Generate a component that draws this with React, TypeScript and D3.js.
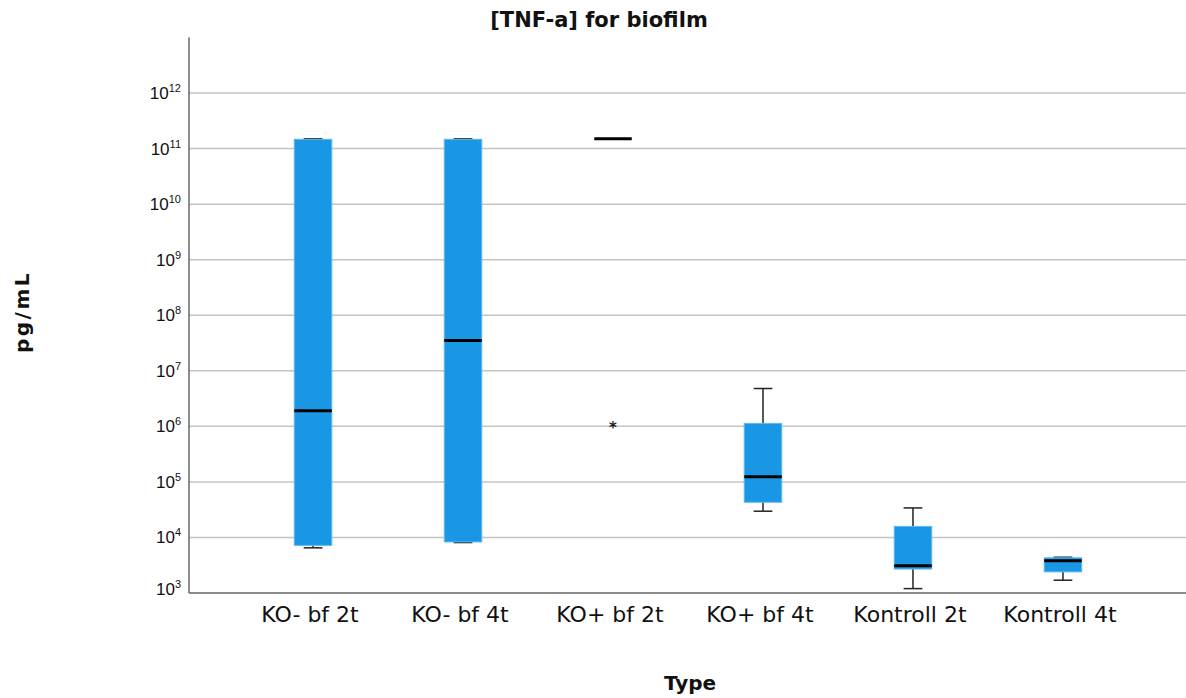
import React, { useEffect, useRef } from 'react';
import * as d3 from 'd3';

const categories = ['KO- bf 2t', 'KO- bf 4t', 'KO+ bf 2t', 'KO+ bf 4t', 'Kontroll 2t', 'Kontroll 4t'];
const whiskerLow = [6.5e3, 8.1e3, 1.5e11, 2.97e4, 1.2e3, 1.7e3];
const q1 = [7.2e3, 8.3e3, 1.5e11, 4.3e4, 2.7e3, 2.4e3];
const medians = [1.9e6, 3.5e7, 1.5e11, 1.24e5, 3.1e3, 3.8e3];
const q3 = [1.47e11, 1.47e11, 1.5e11, 1.13e6, 1.58e4, 4.3e3];
const whiskerHigh = [1.5e11, 1.5e11, 1.5e11, 4.8e6, 3.4e4, 4.4e3];
const outliers = [{ category: 'KO+ bf 2t', value: 1e6 }];
const tickExponents = [3, 4, 5, 6, 7, 8, 9, 10, 11, 12];

const width = 1186;
const height = 698;

const App = () => {
    const svgRef = useRef(null);

    useEffect(() => {
        const svg = d3.select(svgRef.current);
        svg.selectAll('*').remove();

        const left = 189, right = 1187, top = 37.5, bottom = 593;

        const x = d3.scalePoint()
            .domain(categories)
            .range([left, right])
            .padding(0.827);

        const y = d3.scaleLog()
            .domain([1e3, 1e13])
            .range([bottom, top]);

        const boxW = x.step() * 0.25;
        const capW = boxW / 2;
        const font = '"DejaVu Sans", sans-serif';

        // gridlines
        svg.append('g')
            .selectAll('line')
            .data(tickExponents.filter(e => e > 3))
            .enter()
            .append('line')
            .attr('x1', left)
            .attr('x2', width)
            .attr('y1', e => y(Math.pow(10, e)))
            .attr('y2', e => y(Math.pow(10, e)))
            .attr('stroke', '#c4c4c4')
            .attr('stroke-width', 1.5);

        // axes lines
        svg.append('line')
            .attr('x1', left).attr('x2', left)
            .attr('y1', top).attr('y2', bottom)
            .attr('stroke', '#666').attr('stroke-width', 1.5);
        svg.append('line')
            .attr('x1', left).attr('x2', width)
            .attr('y1', bottom).attr('y2', bottom)
            .attr('stroke', '#666').attr('stroke-width', 1.5);

        // y tick labels (10^n)
        const tickG = svg.append('g')
            .attr('font-family', '"Liberation Sans", Arial, sans-serif')
            .attr('fill', '#111');
        tickExponents.forEach(e => {
            let ty = y(Math.pow(10, e)) + 6;
            if (e === 3) ty -= 4;
            const t = tickG.append('text')
                .attr('x', 181)
                .attr('y', ty)
                .attr('text-anchor', 'end')
                .attr('font-size', 17);
            t.append('tspan').text('10');
            t.append('tspan')
                .attr('font-size', 11)
                .attr('dy', -7)
                .text(String(e));
        });

        // boxes
        const boxG = svg.append('g');
        categories.forEach((c, i) => {
            const cx = x(c);

            // whiskers
            const wg = boxG.append('g').attr('stroke', '#222').attr('stroke-width', 1.5);
            wg.append('line')
                .attr('x1', cx).attr('x2', cx)
                .attr('y1', y(whiskerHigh[i])).attr('y2', y(q3[i]));
            wg.append('line')
                .attr('x1', cx).attr('x2', cx)
                .attr('y1', y(q1[i])).attr('y2', y(whiskerLow[i]));
            [whiskerHigh[i], whiskerLow[i]].forEach(v => {
                wg.append('line')
                    .attr('x1', cx - capW / 2).attr('x2', cx + capW / 2)
                    .attr('y1', y(v)).attr('y2', y(v));
            });

            const h = y(q1[i]) - y(q3[i]);
            if (h > 0.5) {
                boxG.append('rect')
                    .attr('x', cx - boxW / 2)
                    .attr('y', y(q3[i]))
                    .attr('width', boxW)
                    .attr('height', h)
                    .attr('fill', '#1a97e4')
                    .attr('stroke', '#5cb8f0')
                    .attr('stroke-width', 1);
            }

            boxG.append('line')
                .attr('x1', cx - boxW / 2).attr('x2', cx + boxW / 2)
                .attr('y1', y(medians[i])).attr('y2', y(medians[i]))
                .attr('stroke', '#000')
                .attr('stroke-width', 3);
        });

        // outliers (extreme values, drawn as small asterisks)
        svg.append('g')
            .selectAll('text')
            .data(outliers)
            .enter()
            .append('text')
            .attr('x', d => x(d.category))
            .attr('y', d => y(d.value) + 7)
            .attr('text-anchor', 'middle')
            .attr('font-family', font)
            .attr('font-weight', 'bold')
            .attr('font-size', 15)
            .attr('fill', '#222')
            .text('*');

        // x labels
        svg.append('g')
            .selectAll('text')
            .data(categories)
            .enter()
            .append('text')
            .attr('x', d => x(d) - 3)
            .attr('y', 622)
            .attr('text-anchor', 'middle')
            .attr('font-family', font)
            .attr('font-size', 22)
            .attr('fill', '#111')
            .text(d => d);

        // title and axis titles
        svg.append('text')
            .attr('x', 599)
            .attr('y', 27)
            .attr('text-anchor', 'middle')
            .attr('font-family', font)
            .attr('font-weight', 'bold')
            .attr('font-size', 21)
            .attr('fill', '#111')
            .text('[TNF-a] for biofilm');

        svg.append('text')
            .attr('transform', 'translate(29, 312) rotate(-90)')
            .attr('text-anchor', 'middle')
            .attr('font-family', font)
            .attr('font-weight', 'bold')
            .attr('font-size', 20)
            .attr('letter-spacing', 2.5)
            .attr('fill', '#111')
            .text('pg/mL');

        svg.append('text')
            .attr('x', 690)
            .attr('y', 690)
            .attr('text-anchor', 'middle')
            .attr('font-family', font)
            .attr('font-weight', 'bold')
            .attr('font-size', 20)
            .attr('fill', '#111')
            .text('Type');
    }, []);

    return (
        <svg
            ref={svgRef}
            width={width}
            height={height}
            style={{ position: 'absolute', left: 0, top: 0, background: '#fff' }}
        ></svg>
    );
};

export default App;
